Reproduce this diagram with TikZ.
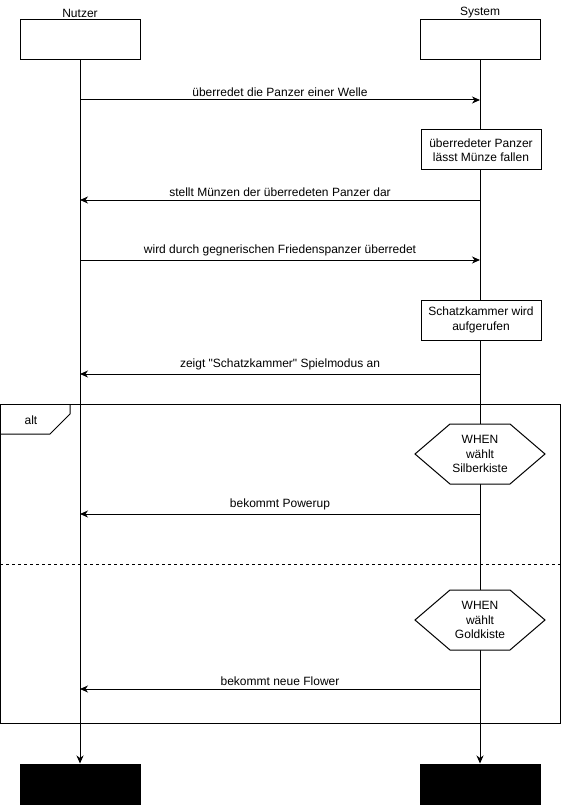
\documentclass[tikz,border=0pt]{standalone}
\usepackage{fontspec}
\setmainfont{Liberation Sans}
\usetikzlibrary{arrows.meta}
\usetikzlibrary{calc}
\usetikzlibrary{positioning}
\tikzset{>={Stealth[length=8pt,width=7pt,inset=2.5pt]}}
\tikzset{lifebox/.style={draw, line width=1pt, minimum width=120pt, minimum height=40pt, inner sep=0pt}}
\tikzset{msg/.style={->, line width=1pt}}
\tikzset{hexbox/.style={draw, line width=1pt, fill=white}}

\begin{document}
\begin{tikzpicture}[x=1pt, y=-1pt, font=\fontsize{12}{14.5}\selectfont]
        \useasboundingbox (0,0) rectangle (562,805);
        % heads and ends of the two lifelines
        \node[lifebox] (nutzer) at (80,40) {};
        \node[lifebox] (system) at (480,40) {};
        \node[above=-2pt of nutzer] (nutzer-title) {Nutzer};
        \node[above=-2pt of system] (system-title) {System};
        \node[lifebox, fill=black] (nutzer-end) at (80,784) {};
        \node[lifebox, fill=black] (system-end) at (480,784) {};
        \draw[msg] (nutzer) -- (nutzer-end);
        \draw[msg] (system) -- (system-end);
        \foreach \y/\m in {100/a, 200/b, 260/c, 374/d, 514/e, 689/f} {
            \coordinate (n\m) at (80,\y);
            \coordinate (s\m) at (480,\y);
        }
        % messages
        \draw[msg] (na) -- node[above] {überredet die Panzer einer Welle} (sa);
        \draw[msg] (sb) -- node[above] {stellt Münzen der überredeten Panzer dar} (nb);
        \draw[msg] (nc) -- node[above] {wird durch gegnerischen Friedenspanzer überredet} (sc);
        \draw[msg] (sd) -- node[above] {zeigt \textquotedbl Schatzkammer\textquotedbl{} Spielmodus an} (nd);
        \draw[msg] (se) -- node[above] {bekommt Powerup} (ne);
        \draw[msg] (sf) -- node[above] {bekommt neue Flower} (nf);
        \node[lifebox, fill=white, align=center] (drop) at (481,150) {überredeter Panzer\\lässt Münze fallen};
        \node[lifebox, fill=white, align=center] (vault) at (481,320) {Schatzkammer wird\\aufgerufen};
        % alt frame
        \draw[line width=1pt] (0,404) rectangle (560,723);
        \draw[line width=1pt] (70,404) -- (70,414) -- (50,434) -- (0,434);
        \node (alt-label) at (31,420) {alt};
        \draw[line width=1pt, dash pattern=on 3pt off 3pt] (0,564) -- (560,564);
        \foreach \y/\name/\kiste in {454/silber/Silberkiste, 620/gold/Goldkiste} {
            \coordinate (\name) at (480,\y);
            \draw[hexbox] ($(\name)+(-65,0)$) -- ++(35,-30) -- ++(60,0) -- ++(35,30) -- ++(-35,30) -- ++(-60,0) -- cycle;
            \node[align=center] (\name-text) at (\name) {WHEN\\wählt\\\kiste};
        }
\end{tikzpicture}
\end{document}
